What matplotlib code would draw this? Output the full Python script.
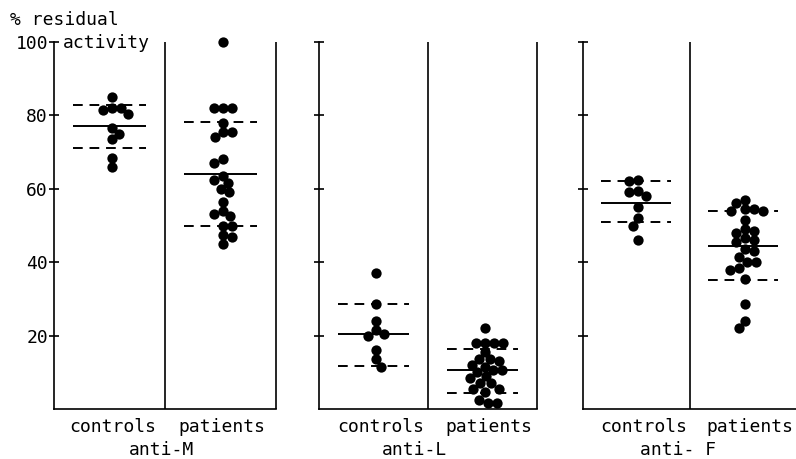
import numpy as np
import matplotlib
matplotlib.use("Agg")
import matplotlib.pyplot as plt
from matplotlib import transforms

# ---------------- data ----------------
panels = ["anti-M", "anti-L", "anti- F"]
groups = ["controls", "patients"]

controls_M = [85, 82, 82, 81.5, 80.5, 76.5, 75, 73.5, 68.5, 66]
patients_M = [100, 82, 82, 82, 78, 75.5, 75.5, 74, 68, 67, 63.5, 62.5, 61.5,
              60, 59, 56.5, 54, 53, 52.5, 50, 50, 47.5, 47, 45]
controls_L = [37, 28.5, 24, 21.5, 20.5, 20, 16, 13.5, 11.5]
patients_L = [22, 18, 18, 18, 18, 15.5, 13.5, 13.5, 13, 12, 11.5, 10.5, 10.5,
              10, 9, 8.5, 7, 7, 5.5, 5.5, 4.5, 2.5, 1.5, 1.5]
controls_F = [62.5, 62, 59.5, 59, 58, 55, 52, 50, 46]
patients_F = [57, 56, 54.5, 54.5, 54, 54, 51.5, 49, 48.5, 48, 46.5, 46, 45.5,
              43.5, 43, 41.5, 40, 40, 38.5, 38, 35.5, 28.5, 24, 22]

ctrl_mean = [77.1, 20.5, 56.1]
ctrl_hi = [82.7, 28.7, 62.2]
ctrl_lo = [71.0, 11.6, 50.9]
pat_mean = [63.9, 10.7, 44.4]
pat_hi = [78.3, 16.4, 54.0]
pat_lo = [50.0, 4.3, 35.1]

ytick_values = [20, 40, 60, 80, 100]
ytick_labels = ["20", "40", "60", "80", "100"]

# ---------------- layout ----------------
W, H = 796, 459
fig = plt.figure(figsize=(W / 100, H / 100), dpi=100)
FONT = "DejaVu Sans Mono"
FS = 13

y0_px = 409.0          # pixel row of value 0
px_per_unit = 3.67     # vertical pixels per value unit
ytop = 102
bottom = 1 - y0_px / H
height = ytop * px_per_unit / H

axes_px = [(54, 276), (319, 537), (583, 796)]
label_x = [(0.53, 1.51, 0.97), (0.57, 1.56, 0.88), (0.57, 1.57, 0.89)]


def swarm(values, center, xpx_per_unit, ypx_per_unit, dmin=9.0):
    placed = []
    offs = np.zeros(len(values))
    order = sorted(range(len(values)), key=lambda i: -values[i])
    for n, i in enumerate(order):
        y = values[i] * ypx_per_unit
        best = None
        for k in range(0, 200):
            signs = (1,) if k == 0 else ((1, -1) if n % 2 == 0 else (-1, 1))
            for s in signs:
                x = s * k * 0.5
                if all((x - px) ** 2 + (y - py) ** 2 >= dmin ** 2 for px, py in placed):
                    best = x
                    break
            if best is not None:
                break
        placed.append((best, y))
        offs[i] = best
    return center + offs / xpx_per_unit


data = [(controls_M, patients_M), (controls_L, patients_L), (controls_F, patients_F)]

for p in range(3):
    l, r = axes_px[p]
    ax = fig.add_axes([l / W, bottom, (r - l) / W, height])
    ax.set_xlim(0, 2)
    ax.set_ylim(0, ytop)
    ax.patch.set_alpha(0)
    for s in ["top", "right"]:
        ax.spines[s].set_visible(False)
    ax.spines["left"].set_bounds(0, 100)
    ax.spines["left"].set_linewidth(1.2)
    ax.spines["bottom"].set_linewidth(1.2)
    ax.set_xticks([])
    ax.set_yticks(ytick_values)
    if p == 0:
        ax.set_yticklabels(ytick_labels, fontfamily=FONT, fontsize=FS)
        ax.tick_params(axis="y", direction="inout", length=6.5, width=1.2, pad=1)
    else:
        ax.set_yticklabels([])
        ax.tick_params(axis="y", direction="inout", length=7, width=1.2)
    ax.vlines(1, 0, 100, color="black", lw=1.2, clip_on=False)
    if p < 2:
        ax.vlines(2, 0, 100, color="black", lw=1.2, clip_on=False)

    xpx = (r - l) / 2.0
    for g, (vals, mean, hi, lo) in enumerate([
            (data[p][0], ctrl_mean[p], ctrl_hi[p], ctrl_lo[p]),
            (data[p][1], pat_mean[p], pat_hi[p], pat_lo[p])]):
        c = 0.5 + g
        ax.hlines(mean, c - 0.33, c + 0.33, color="black", lw=1.4, zorder=2)
        ax.hlines([hi, lo], c - 0.33, c + 0.33, color="black", lw=1.4,
                  linestyles=(0, (5, 3.5)), zorder=2)
        xs = swarm(vals, c + 0.02, xpx, px_per_unit)
        ax.scatter(xs, vals, s=55, color="black", zorder=3, linewidths=0,
                   clip_on=False)

    tr = transforms.blended_transform_factory(ax.transData, fig.transFigure)
    ax.text(label_x[p][0], 1 - 432 / H, groups[0], transform=tr, ha="center",
            va="baseline", fontfamily=FONT, fontsize=FS)
    ax.text(label_x[p][1], 1 - 432 / H, groups[1], transform=tr, ha="center",
            va="baseline", fontfamily=FONT, fontsize=FS)
    ax.text(label_x[p][2], 1 - 455 / H, panels[p], transform=tr, ha="center",
            va="baseline", fontfamily=FONT, fontsize=FS)

fig.text(10 / W, 1 - 25 / H, "% residual", ha="left", va="baseline",
         fontfamily=FONT, fontsize=FS)
fig.text(63 / W, 1 - 48 / H, "activity", ha="left", va="baseline",
         fontfamily=FONT, fontsize=FS)

fig.savefig("out.png", dpi=100, facecolor="white")
